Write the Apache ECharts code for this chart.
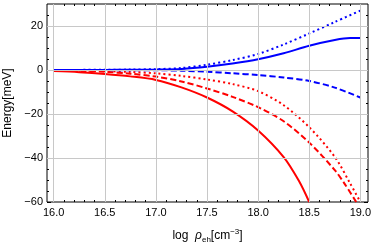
<!DOCTYPE html>
<html><head><meta charset="utf-8">
<script src="https://cdn.jsdelivr.net/npm/echarts@6/dist/echarts.min.js"></script>
<style>html,body{margin:0;padding:0;background:#fff}#c{width:374px;height:246px}</style>
</head><body><div id="c"></div>
<script>
// ---- axis ticks ----
const xMajorTicks = [16.0, 16.5, 17.0, 17.5, 18.0, 18.5, 19.0];
const xMinorTicks = [16.1, 16.2, 16.3, 16.4, 16.6, 16.7, 16.8, 16.9, 17.1, 17.2, 17.3, 17.4, 17.6, 17.7, 17.8, 17.9,
                     18.1, 18.2, 18.3, 18.4, 18.6, 18.7, 18.8, 18.9];
const yMajorTicks = [-60, -40, -20, 0, 20];
const yMinorTicks = [-55, -50, -45, -35, -30, -25, -15, -10, -5, 5, 10, 15, 25];
const xGrid = [16.0, 16.5, 17.0, 17.5, 18.0, 18.5, 19.0];
const yGrid = [-40, -20, 0, 20];

// ---- data ----
const xBlue = [16.0, 16.25, 16.5, 16.75, 17.0, 17.25, 17.5, 17.75, 18.0, 18.25, 18.5, 18.75, 19.0];
const blueDotted = [0, 0.05, 0.1, 0.2, 0.4, 0.9, 2.4, 4.5, 7.3, 11.6, 16.6, 21.8, 27.0];
const xBlueSolid = [16.0, 16.25, 16.5, 16.75, 17.0, 17.25, 17.5, 17.75, 18.0, 18.25, 18.5, 18.75, 18.9, 19.0];
const blueSolid = [0, 0.02, 0.05, 0.1, 0.2, 0.5, 1.5, 3.0, 4.9, 7.6, 11.0, 13.6, 14.5, 14.5];
const blueDashed = [0, -0.02, -0.05, -0.08, -0.1, -0.3, -0.8, -1.5, -2.3, -3.4, -5.0, -8.0, -12.5];

const xRedDotted = [16.0, 16.25, 16.5, 16.75, 17.0, 17.25, 17.5, 17.75, 18.0, 18.25, 18.5, 18.75, 18.9, 19.0];
const redDotted = [-0.1, -0.3, -0.5, -0.9, -1.5, -2.7, -4.3, -6.4, -9.6, -16.0, -26.0, -39.5, -51.5, -60.0];
const xRedDashed = [16.0, 16.25, 16.5, 16.75, 17.0, 17.25, 17.5, 17.75, 18.0, 18.25, 18.5, 18.75, 18.85, 18.96];
const redDashed = [-0.2, -0.4, -0.8, -1.7, -3.0, -5.2, -8.4, -12.2, -16.9, -23.3, -33.0, -45.5, -52.0, -60.0];
const xRedSolid = [16.0, 16.25, 16.5, 16.75, 17.0, 17.25, 17.5, 17.75, 18.0, 18.25, 18.4, 18.5];
const redSolid = [-0.5, -1.0, -1.8, -2.9, -4.5, -7.9, -12.5, -18.8, -27.5, -39.6, -50.5, -60.0];

const XMIN = 15.935, XMAX = 19.075, YMIN = -60, YMAX = 30;

function pairs(xs, ys) { return xs.map((x, i) => [x, ys[i]]); }
const fmtY = v => v < 0 ? '\u2212' + Math.abs(v) : String(v);
const fmtX = v => Number(v).toFixed(1);

function xAx(pos, ticks, len, labels) {
  return {
    type: 'value', min: XMIN, max: XMAX, position: pos,
    axisLine: { show: false, onZero: false }, splitLine: { show: false },
    axisTick: { show: true, inside: true, length: len, customValues: ticks, lineStyle: { color: '#000', width: 1 } },
    axisLabel: labels ? { show: true, customValues: ticks, formatter: fmtX, color: '#000', fontSize: 11, margin: 5, fontFamily: 'Liberation Sans' } : { show: false }
  };
}
function yAx(pos, ticks, len, labels) {
  return {
    type: 'value', min: YMIN, max: YMAX, position: pos,
    axisLine: { show: false, onZero: false }, splitLine: { show: false },
    axisTick: { show: true, inside: true, length: len, customValues: ticks, lineStyle: { color: '#000', width: 1 } },
    axisLabel: labels ? { show: true, customValues: ticks, formatter: fmtY, color: '#000', fontSize: 11, margin: 4, fontFamily: 'Liberation Sans' } : { show: false }
  };
}

const xa0 = xAx('bottom', xMajorTicks, 4, true);
xa0.name = '{a|log  }{b|\u03C1}{c|eh}{a|[cm}{d|\u22123}{a|]}';
xa0.nameLocation = 'middle';
xa0.nameGap = 26;
xa0.nameTextStyle = {
  color: '#000', fontFamily: 'Liberation Sans',
  rich: {
    a: { fontSize: 12, color: '#000', fontFamily: 'Liberation Sans', lineHeight: 16, verticalAlign: 'middle' },
    b: { fontSize: 12, color: '#000', fontFamily: 'Liberation Sans', fontStyle: 'italic', lineHeight: 16, verticalAlign: 'middle' },
    c: { fontSize: 8, color: '#000', fontFamily: 'Liberation Sans', lineHeight: 16, verticalAlign: 'bottom' },
    d: { fontSize: 8, color: '#000', fontFamily: 'Liberation Sans', lineHeight: 16, verticalAlign: 'top' }
  }
};
const ya0 = yAx('left', yMajorTicks, 4, true);
ya0.name = 'Energy[meV]';
ya0.nameLocation = 'middle';
ya0.nameGap = 33;
ya0.nameRotate = 90;
ya0.nameTextStyle = { color: '#000', fontSize: 12, fontFamily: 'Liberation Sans' };

const chart = echarts.init(document.getElementById('c'), null, { renderer: 'canvas' });

function ser(xs, ys, color, type) {
  return {
    type: 'line', xAxisIndex: 0, yAxisIndex: 0, data: pairs(xs, ys),
    showSymbol: false, symbol: 'none', smooth: 0.3, clip: true, z: 3,
    lineStyle: { color: color, width: 2, type: type, cap: 'butt' }, silent: true
  };
}

chart.setOption({
  animation: false,
  grid: { left: 47, right: 6, top: 4, bottom: 44, show: true, borderColor: '#000', borderWidth: 1, backgroundColor: 'transparent', containLabel: false, outerBoundsMode: 'none' },
  xAxis: [xa0, xAx('bottom', xMinorTicks, 2, false), xAx('top', xMajorTicks, 4, false), xAx('top', xMinorTicks, 2, false)],
  yAxis: [ya0, yAx('left', yMinorTicks, 2, false), yAx('right', yMajorTicks, 4, false), yAx('right', yMinorTicks, 2, false)],
  series: [
    {
      type: 'line', xAxisIndex: 0, yAxisIndex: 0, data: [[16, 0]], symbol: 'none', lineStyle: { width: 0 }, z: 1, silent: true,
      markLine: {
        silent: true, symbol: 'none', label: { show: false }, animation: false,
        lineStyle: { color: '#c8c8c8', width: 1, type: 'solid' },
        data: xGrid.map(v => ({ xAxis: v })).concat(yGrid.map(v => ({ yAxis: v })))
      }
    },
    ser(xRedSolid, redSolid, '#ff0000', 'solid'),
    ser(xRedDashed, redDashed, '#ff0000', [6, 3]),
    ser(xRedDotted, redDotted, '#ff0000', [2, 3]),
    ser(xBlue, blueDashed, '#0000ff', [6, 3]),
    ser(xBlueSolid, blueSolid, '#0000ff', 'solid'),
    ser(xBlue, blueDotted, '#0000ff', [2, 3])
  ]
});
</script></body></html>
